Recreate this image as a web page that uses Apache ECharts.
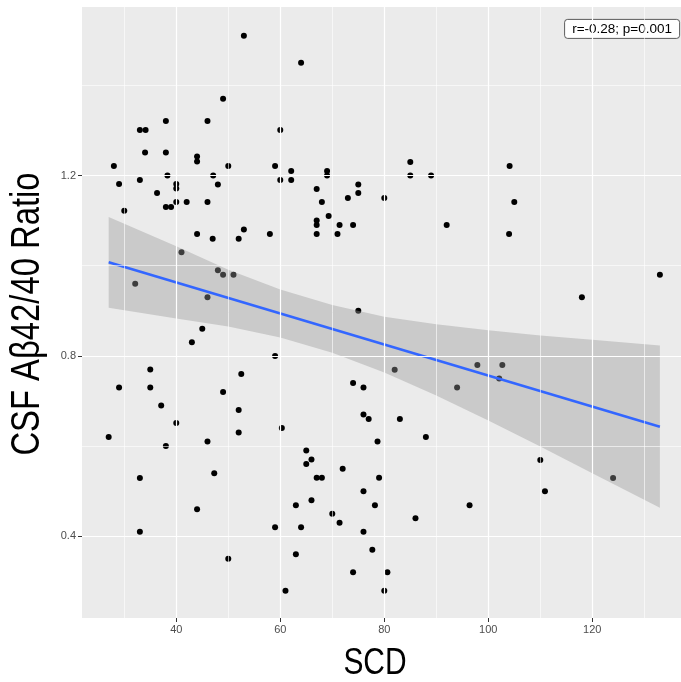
<!DOCTYPE html>
<html>
<head>
<meta charset="utf-8">
<script src="https://cdn.jsdelivr.net/npm/echarts@6/dist/echarts.min.js"></script>
<style>html,body{margin:0;padding:0;background:#fff}#c{width:681px;height:682px}</style>
</head>
<body>
<div id="c"></div>
<script>
// ---- data ----
const scd = [53.0,49.0,38.0,46.0,33.0,34.1,60.0,34.0,38.0,44.0,44.0,28.0,50.0,59.0,29.0,33.0,38.3,47.1,48.0,60.0,
  40.0,40.0,36.3,40.0,42.0,46.0,38.0,39.0,30.0,64.0,62.1,69.0,69.0,62.1,67.0,68.0,75.0,75.0,73.0,80.0,
  85.0,85.0,89.0,104.1,105.0,44.0,47.0,52.0,53.0,58.0,41.0,48.0,49.0,51.0,32.1,46.0,45.0,43.0,59.0,35.0,
  52.5,29.0,35.0,49.0,37.1,52.0,67.0,67.0,69.3,71.4,74.0,67.0,71.0,92.0,75.0,82.0,74.0,76.0,94.0,97.9,
  104.0,133.0,118.0,102.7,102.1,40.0,27.0,38.0,46.0,52.0,60.3,33.0,47.3,44.0,33.0,59.0,50.0,61.0,76.0,77.0,
  83.0,88.0,78.7,65.0,66.0,65.0,72.0,67.0,68.0,79.0,76.0,66.0,63.0,78.2,96.4,70.0,71.4,86.0,64.0,76.0,
  63.0,77.7,74.0,80.6,80.0,110.0,110.9,124.0];
const ratio = [1.510,1.370,1.321,1.321,1.301,1.301,1.301,1.251,1.251,1.242,1.231,1.221,1.221,1.221,1.181,1.190,1.200,1.200,1.180,1.190,
  1.181,1.171,1.161,1.141,1.141,1.141,1.130,1.130,1.122,1.450,1.210,1.210,1.200,1.190,1.170,1.141,1.180,1.161,1.150,1.150,
  1.230,1.200,1.200,1.221,1.141,1.070,1.060,1.060,1.080,1.070,1.030,0.990,0.980,0.980,0.960,0.930,0.860,0.830,0.800,0.770,
  0.760,0.730,0.730,0.720,0.690,0.680,1.100,1.090,1.110,1.090,1.090,1.070,1.070,1.090,0.900,0.769,0.740,0.730,0.730,0.780,
  1.070,0.980,0.930,0.780,0.750,0.651,0.620,0.600,0.610,0.630,0.640,0.529,0.540,0.460,0.410,0.420,0.350,0.279,0.670,0.660,
  0.660,0.620,0.610,0.590,0.570,0.560,0.550,0.530,0.530,0.530,0.500,0.480,0.469,0.469,0.469,0.450,0.430,0.440,0.420,0.410,
  0.360,0.370,0.320,0.320,0.279,0.569,0.500,0.529];
const fitX = [27, 133];
const fitY = [1.0075, 0.643];
const bandX = [27, 40, 50, 60, 70, 80, 90, 100, 110, 120, 133];
const bandUpper = [1.108, 1.043, 0.991, 0.947, 0.913, 0.887, 0.870, 0.857, 0.845, 0.836, 0.823];
const bandLower = [0.907, 0.883, 0.865, 0.841, 0.807, 0.763, 0.712, 0.657, 0.599, 0.540, 0.463];
const xTicks = [40, 60, 80, 100, 120];
const xMinor = [30, 50, 70, 90, 110, 130];
const yTicks = [0.4, 0.8, 1.2];
const yMinor = [0.6, 1.0, 1.4];
const xTitle = 'SCD';
const yTitle = 'CSF Aβ42/40 Ratio';
const annotation = 'r=-0.28; p=0.001';

const chart = echarts.init(document.getElementById('c'), null, {renderer: 'canvas'});
const regular = "'Liberation Sans',Arial,sans-serif";

const gridLines = [];
yTicks.forEach(v => gridLines.push({yAxis: v, lineStyle: {width: 1.2}}));
yMinor.forEach(v => gridLines.push({yAxis: v, lineStyle: {width: 0.6}}));
xTicks.forEach(v => gridLines.push({xAxis: v, lineStyle: {width: 1.2}}));
xMinor.forEach(v => gridLines.push({xAxis: v, lineStyle: {width: 0.6}}));

chart.setOption({
  animation: false,
  grid: {left: 82, top: 7, width: 599, height: 611, show: true, backgroundColor: '#EBEBEB', borderWidth: 0,
    containLabel: false, outerBoundsMode: 'none'},
  xAxis: {
    type: 'value', min: 21.87, max: 137.06,
    axisLine: {show: false}, splitLine: {show: false},
    axisTick: {show: true, customValues: xTicks, length: 4, lineStyle: {color: '#333'}},
    axisLabel: {customValues: xTicks, color: '#4D4D4D', fontSize: 11, fontFamily: regular, margin: 6}
  },
  yAxis: {
    type: 'value', min: 0.2188, max: 1.5736,
    axisLine: {show: false}, splitLine: {show: false},
    axisTick: {show: true, customValues: yTicks, length: 4, lineStyle: {color: '#333'}},
    axisLabel: {customValues: yTicks, color: '#4D4D4D', fontSize: 11, fontFamily: regular, margin: 6,
      formatter: v => v.toFixed(1)}
  },
  series: [
    {type: 'line', data: [], z: 1, silent: true,
      markLine: {silent: true, symbol: ['none', 'none'], label: {show: false},
        lineStyle: {color: '#fff', type: 'solid'}, emphasis: {disabled: true}, data: gridLines}},
    {type: 'scatter', z: 2, symbolSize: 6, itemStyle: {color: '#000', opacity: 1},
      data: scd.map((x, i) => [x, ratio[i]])},
    {type: 'custom', z: 3, silent: true, data: [[bandX[0], bandUpper[0]]],
      renderItem: (params, api) => {
        const pts = [];
        for (let i = 0; i < bandX.length; i++) pts.push(api.coord([bandX[i], bandUpper[i]]));
        for (let i = bandX.length - 1; i >= 0; i--) pts.push(api.coord([bandX[i], bandLower[i]]));
        return {type: 'polygon', shape: {points: pts}, style: {fill: 'rgba(153,153,153,0.4)'}};
      }},
    {type: 'line', z: 4, showSymbol: false, silent: true,
      lineStyle: {color: '#3366FF', width: 2.5},
      data: fitX.map((x, i) => [x, fitY[i]])}
  ],
  graphic: [
    {type: 'group', right: 1, top: 19,
      children: [
        {type: 'rect', shape: {x: 0, y: 0, width: 115, height: 19, r: 3},
          style: {fill: '#fff', stroke: '#333', lineWidth: 0.8}},
        {type: 'text', x: 57.5, y: 10,
          style: {text: annotation, fontSize: 13.5, fontFamily: regular, fill: '#000', align: 'center', verticalAlign: 'middle'}}
      ]},
    {type: 'text', x: 375, y: 664, scaleX: 0.82,
      style: {text: xTitle, fontSize: 36.5, fontFamily: regular, fill: '#000', align: 'center', verticalAlign: 'middle'}},
    {type: 'text', x: 28, y: 314, rotation: Math.PI / 2, scaleX: 0.82,
      style: {text: yTitle, fontSize: 40, fontFamily: regular, fill: '#000', align: 'center', verticalAlign: 'middle'}}
  ]
});
</script>
</body>
</html>
